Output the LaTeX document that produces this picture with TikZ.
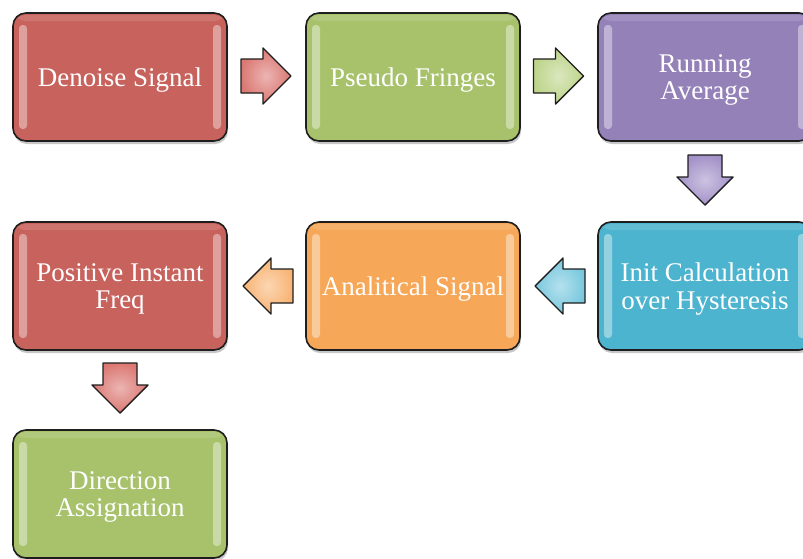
\documentclass[tikz,border=0pt]{standalone}
\usepackage{fontspec}
\setmainfont{Liberation Serif}
\usetikzlibrary{shadows}
\definecolor{boxline}{HTML}{1E1E1E}
\definecolor{cred}{HTML}{C8625D}
\definecolor{cgreen}{HTML}{A7C26B}
\definecolor{cpurple}{HTML}{9481B8}
\definecolor{cblue}{HTML}{4DB4CF}
\definecolor{corange}{HTML}{F6A757}
\definecolor{ared}{HTML}{DB7873}
\definecolor{agreen}{HTML}{BDD48A}
\definecolor{apurple}{HTML}{A391C8}
\definecolor{ablue}{HTML}{78C8DE}
\definecolor{aorange}{HTML}{F8B474}
\tikzset{
  box/.style={draw=boxline, line width=1.6pt, rounded corners=13pt,
    minimum width=214pt, minimum height=128pt, fill=#1, inner sep=0pt,
    drop shadow={shadow xshift=1pt, shadow yshift=-3pt, opacity=0.22, fill=black},
    path picture={
      \fill[white, opacity=0.40, rounded corners=3.5pt]
        ([xshift=6pt,yshift=-12pt]path picture bounding box.north west) rectangle ++(8pt,-104pt);
      \fill[white, opacity=0.40, rounded corners=3.5pt]
        ([xshift=-14pt,yshift=-12pt]path picture bounding box.north east) rectangle ++(8pt,-104pt);
      \fill[white, opacity=0.12]
        ([yshift=-2pt]path picture bounding box.north west) rectangle ([yshift=-8pt]path picture bounding box.north east);
    }},
  lbl/.style={text=white, font=\fontsize{27}{27.5}\selectfont, align=center, inner sep=0pt},
  arrowline/.style={draw=boxline, line width=1.4pt, line join=round},
  pics/blockarrow/.style={code={
    \shade[arrowline, inner color=white!45!#1, outer color=#1]
      (-25,-17) -- (-3,-17) -- (-3,-28) -- (25,0) -- (-3,28) -- (-3,17) -- (-25,17) -- cycle;
  }}
}
\begin{document}
\begin{tikzpicture}[x=1pt,y=-1pt]
\useasboundingbox (0,0) rectangle (803,558);
\clip (0,0) rectangle (803,558);
% row 1
\node[box=cred]    (denoise) at (120,77)  {};
\node[box=cgreen]  (pseudo)  at (413,77)  {};
\node[box=cpurple] (running) at (705,77)  {};
% row 2
\node[box=cred]    (positive) at (120,286) {};
\node[box=corange] (analit)   at (413,286) {};
\node[box=cblue]   (init)     at (705,286) {};
% row 3
\node[box=cgreen]  (direction) at (120,494) {};
% labels
\node[lbl] (tdenoise)   at ([yshift=-3pt]denoise.center)   {Denoise Signal};
\node[lbl] (tpseudo)    at ([yshift=-3pt]pseudo.center)    {Pseudo Fringes};
\node[lbl] (trunning)   at ([yshift=-3pt]running.center)   {Running\\Average};
\node[lbl] (tpositive)  at ([yshift=-3pt]positive.center)  {Positive Instant\\Freq};
\node[lbl] (tanalit)    at ([yshift=-3pt]analit.center)    {Analitical Signal};
\node[lbl] (tinit)      at ([yshift=-3pt]init.center)      {Init Calculation\\over Hysteresis};
\node[lbl] (tdirection) at ([yshift=-3pt]direction.center) {Direction\\Assignation};
% arrows
\pic at (266,76)            {blockarrow=ared};
\pic at (558.5,76)          {blockarrow=agreen};
\pic[rotate=-90] at (705,180) {blockarrow=apurple};
\pic[rotate=180] at (560,286) {blockarrow=ablue};
\pic[rotate=180] at (268,286) {blockarrow=aorange};
\pic[rotate=-90] at (120,388) {blockarrow=ared};
\end{tikzpicture}
\end{document}
